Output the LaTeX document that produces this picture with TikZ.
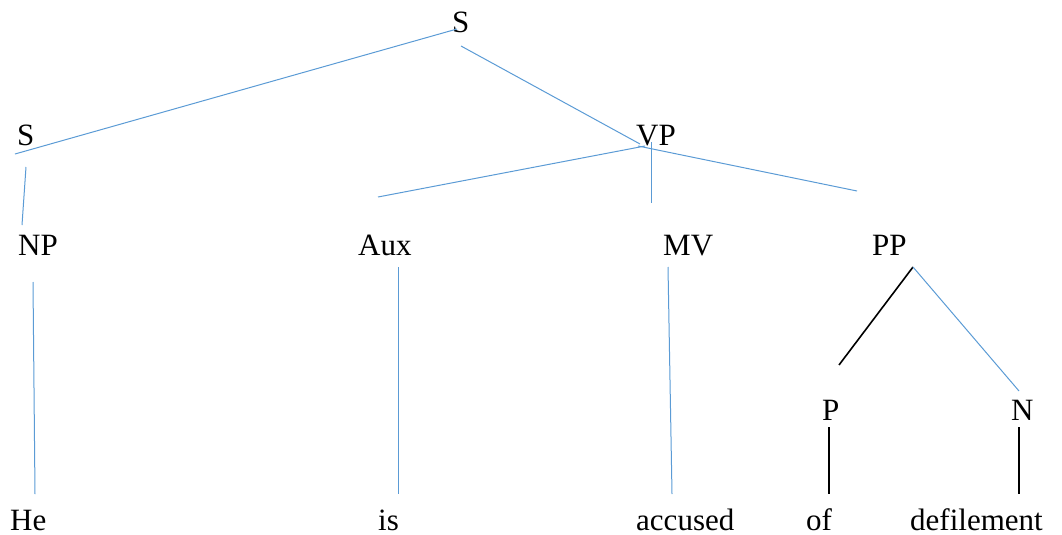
\documentclass[tikz,border=0pt]{standalone}
\usepackage{fontspec}
\setmainfont{Liberation Serif}
\definecolor{lineblue}{RGB}{91,155,213}
\tikzset{
  lbl/.style={anchor=base west, inner sep=0pt, font=\fontsize{31}{37}\selectfont},
  bl/.style={draw=lineblue, line width=1pt},
  bk/.style={draw=black, line width=1.6pt}
}
\begin{document}
\begin{tikzpicture}[x=1pt,y=-1pt]
\useasboundingbox (0,0) rectangle (1062,535);
% labels
\node[lbl] (Stop) at (452,33) {S};
\node[lbl] (Sl) at (17,145) {S};
\node[lbl] (VP) at (636,145) {VP};
\node[lbl] (NP) at (18,255) {NP};
\node[lbl] (Aux) at (358,255) {Aux};
\node[lbl] (MV) at (663,255) {MV};
\node[lbl] (PP) at (872,255) {PP};
\node[lbl] (P) at (822,420) {P};
\node[lbl] (N) at (1011,420) {N};
\node[lbl] (He) at (10,530) {He};
\node[lbl] (is) at (378,530) {is};
\node[lbl] (accused) at (636,530) {accused};
\node[lbl] (of) at (806,530) {of};
\node[lbl] (defilement) at (910,530) {defilement};
% connector end points
\coordinate (a1) at (457,29);  \coordinate (a2) at (15,154);
\coordinate (b1) at (461,46);  \coordinate (b2) at (640,144);
\coordinate (c1) at (26,167);  \coordinate (c2) at (22,225);
\coordinate (d1) at (645,146); \coordinate (d2) at (378,197);
\coordinate (e1) at (651,142); \coordinate (e2) at (651,203);
\coordinate (f1) at (638,146); \coordinate (f2) at (857,191);
\coordinate (g1) at (33,282);  \coordinate (g2) at (35,494);
\coordinate (h1) at (398,267); \coordinate (h2) at (398,494);
\coordinate (i1) at (668,267); \coordinate (i2) at (672,494);
\coordinate (j1) at (913,267); \coordinate (j2) at (839,365);
\coordinate (k2) at (1019,391);
\coordinate (l1) at (829,427); \coordinate (l2) at (829,494);
\coordinate (m1) at (1019,427); \coordinate (m2) at (1019,494);
% connectors
\draw[bl] (a1) -- (a2);
\draw[bl] (b1) -- (b2);
\draw[bl] (c1) -- (c2);
\draw[bl] (d1) -- (d2);
\draw[bl] (e1) -- (e2);
\draw[bl] (f1) -- (f2);
\draw[bl] (g1) -- (g2);
\draw[bl] (h1) -- (h2);
\draw[bl] (i1) -- (i2);
\draw[bk] (j1) -- (j2);
\draw[bl] (j1) -- (k2);
\draw[bk] (l1) -- (l2);
\draw[bk] (m1) -- (m2);
\end{tikzpicture}
\end{document}
